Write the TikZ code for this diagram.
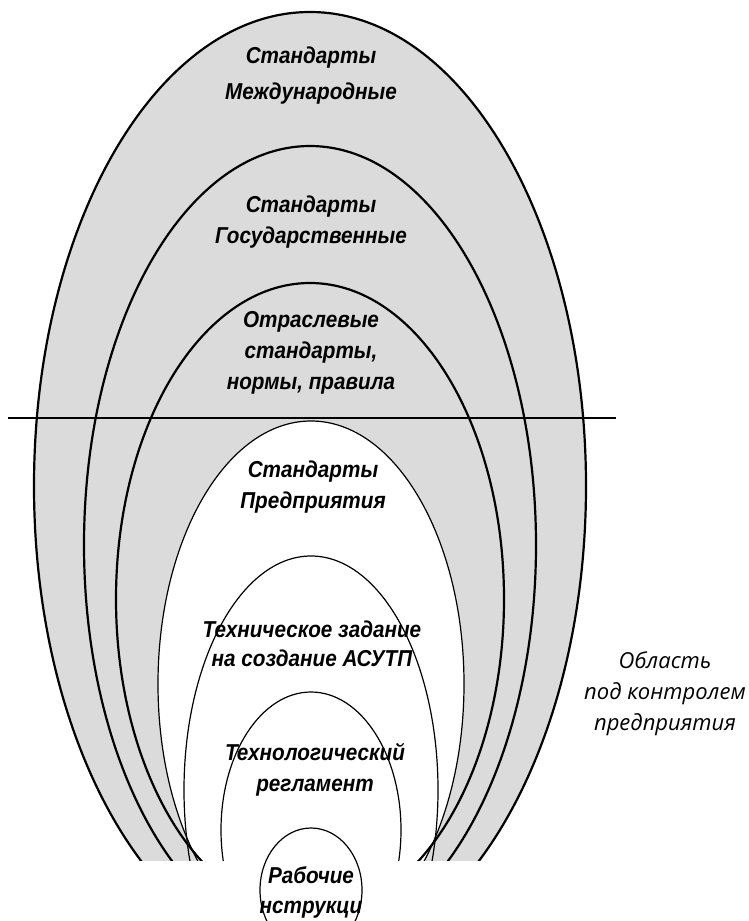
\documentclass[tikz,border=0pt]{standalone}
\usepackage{fontspec}
\newfontfamily\lblfont[FakeStretch=0.9]{Liberation Sans}
\newfontfamily\zonefont{Open Sans}
\usetikzlibrary{calc}
\definecolor{ZoneClr}{gray}{0.86}

\begin{document}
\begin{tikzpicture}[x=1pt,y=-1pt,
  lvl/.style={font=\lblfont\bfseries\itshape\fontsize{23}{31}\selectfont,align=center,inner sep=0pt},
  wide arc/.style={line width=2.2pt},
  slim arc/.style={line width=1.2pt}]
\useasboundingbox (0,0) rectangle (748,921);

\coordinate (c1) at (310,486);
\coordinate (c2) at (310,545);
\coordinate (c3) at (310,599);
\coordinate (c4) at (311,684);
\coordinate (c5) at (311,790);
\coordinate (c6) at (311,830);
\coordinate (c7) at (311,890);
\coordinate (cutW) at (8,418);
\coordinate (cutE) at (616,418);

\begin{scope}
\clip (0,0) rectangle (748,860);
\fill[ZoneClr] (c1) ellipse [x radius=276pt,y radius=474pt];
\fill[white] (c4) ellipse [x radius=153pt,y radius=263pt];
\draw[wide arc] (c1) ellipse [x radius=276pt,y radius=474pt];
\draw[wide arc] (c2) ellipse [x radius=226pt,y radius=399pt];
\draw[wide arc] (c3) ellipse [x radius=194pt,y radius=316pt];
\draw[slim arc] (c4) ellipse [x radius=153pt,y radius=263pt];
\draw[slim arc] (c5) ellipse [x radius=127pt,y radius=234pt];
\draw[slim arc] (c6) ellipse [x radius=90pt,y radius=138pt];
\end{scope}
\begin{scope}
\clip (0,0) rectangle (748,921);
\draw[slim arc] (c7) ellipse [x radius=51pt,y radius=62pt];
\end{scope}

\draw[line width=2pt] (cutW) -- (cutE);

\node[lvl,font=\lblfont\bfseries\itshape\fontsize{23}{36}\selectfont] (intl) at (311,76) {Стандарты\\Международные};
\node[lvl] (state) at (311,222) {Стандарты\\Государственные};
\node[lvl] (branch) at (311,353) {Отраслевые\\стандарты,\\нормы, правила};
\node[lvl] (ent) at (313,487) {Стандарты\\Предприятия};
\node[lvl,font=\lblfont\bfseries\itshape\fontsize{23}{29}\selectfont] (spec) at (312,644) {Техническое задание\\на создание АСУТП};
\node[lvl] (reg) at (315,770) {Технологический\\регламент};
\node[lvl,font=\lblfont\bfseries\itshape\fontsize{23}{30}\selectfont] (instr) at (311,892) {Рабочие\\нструкци};

\node[font=\zonefont\itshape\fontsize{22}{31}\selectfont,align=center,inner sep=0pt] (ctrl) at (665,694) {Область\\под контролем\\предприятия};
\end{tikzpicture}
\end{document}
